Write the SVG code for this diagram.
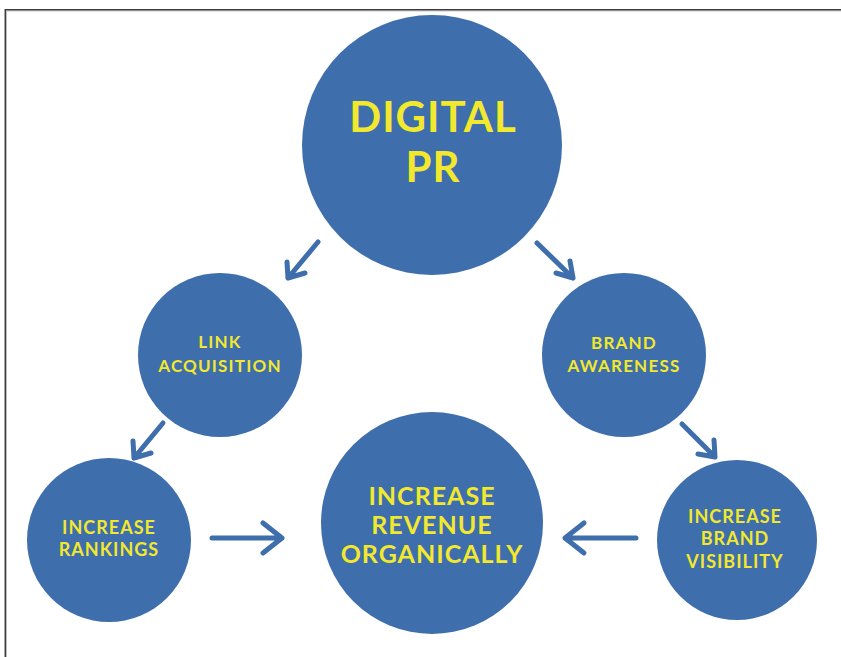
<svg xmlns="http://www.w3.org/2000/svg" width="841" height="657" viewBox="0 0 841 657">
  <style>
    .node { fill: #3e6eac; }
    .label { fill: #f2e82e; font-family: Lato, "Open Sans", sans-serif; font-weight: 700; text-anchor: middle; }
    .arrow { fill: none; stroke: #3e6eac; stroke-width: 5; stroke-linecap: round; stroke-linejoin: round; }
  </style>
  <rect width="841" height="657" fill="#ffffff"/>
  <!-- frame: top and left edges -->
  <path d="M6.5,657 V11 H841" fill="none" stroke="#c8c8c8" stroke-width="1"/>
  <path d="M5.3,657 V9.8 H841" fill="none" stroke="#3c3c3c" stroke-width="1.5"/>

  <g id="digital-pr">
    <circle class="node" cx="432" cy="145" r="130"/>
    <text class="label" x="433" y="132" font-size="42" letter-spacing="1">DIGITAL</text>
    <text class="label" x="433" y="182" font-size="42" letter-spacing="1">PR</text>
  </g>
  <g id="link-acquisition">
    <circle class="node" cx="220" cy="355" r="82"/>
    <text class="label" x="220" y="348" font-size="17" letter-spacing="1.2">LINK</text>
    <text class="label" x="220" y="372" font-size="17" letter-spacing="1.2">ACQUISITION</text>
  </g>
  <g id="brand-awareness">
    <circle class="node" cx="624" cy="355" r="82"/>
    <text class="label" x="624" y="349" font-size="17" letter-spacing="1.2">BRAND</text>
    <text class="label" x="624" y="372" font-size="17" letter-spacing="1.2">AWARENESS</text>
  </g>
  <g id="increase-rankings">
    <circle class="node" cx="109" cy="540" r="82"/>
    <text class="label" x="109" y="534" font-size="18" letter-spacing="1">INCREASE</text>
    <text class="label" x="109" y="556" font-size="18" letter-spacing="1">RANKINGS</text>
  </g>
  <g id="increase-revenue">
    <circle class="node" cx="432" cy="523" r="111"/>
    <text class="label" x="432" y="505" font-size="25" letter-spacing="1">INCREASE</text>
    <text class="label" x="432" y="534" font-size="25" letter-spacing="1">REVENUE</text>
    <text class="label" x="432" y="563" font-size="25" letter-spacing="1">ORGANICALLY</text>
  </g>
  <g id="increase-brand-visibility">
    <circle class="node" cx="737" cy="540" r="80"/>
    <text class="label" x="735" y="523" font-size="18" letter-spacing="1">INCREASE</text>
    <text class="label" x="735" y="545" font-size="18" letter-spacing="1">BRAND</text>
    <text class="label" x="735" y="568" font-size="18" letter-spacing="1">VISIBILITY</text>
  </g>

  <g id="connectors">
    <path class="arrow" d="M318,242 L288,278 M287,262 L288,278 L305,273"/>
    <path class="arrow" d="M537,243 L573,278 M570,261 L573,278 L556,273"/>
    <path class="arrow" d="M163,423 L134,458 M133,441 L134,458 L151,453"/>
    <path class="arrow" d="M212,538 L282,538 M263,523 L282,538 L263,553"/>
    <path class="arrow" d="M682,424 L715,457 M714,440 L715,457 L698,454"/>
    <path class="arrow" d="M636,538 L565,538 M584,523 L565,538 L584,553"/>
  </g>
</svg>
